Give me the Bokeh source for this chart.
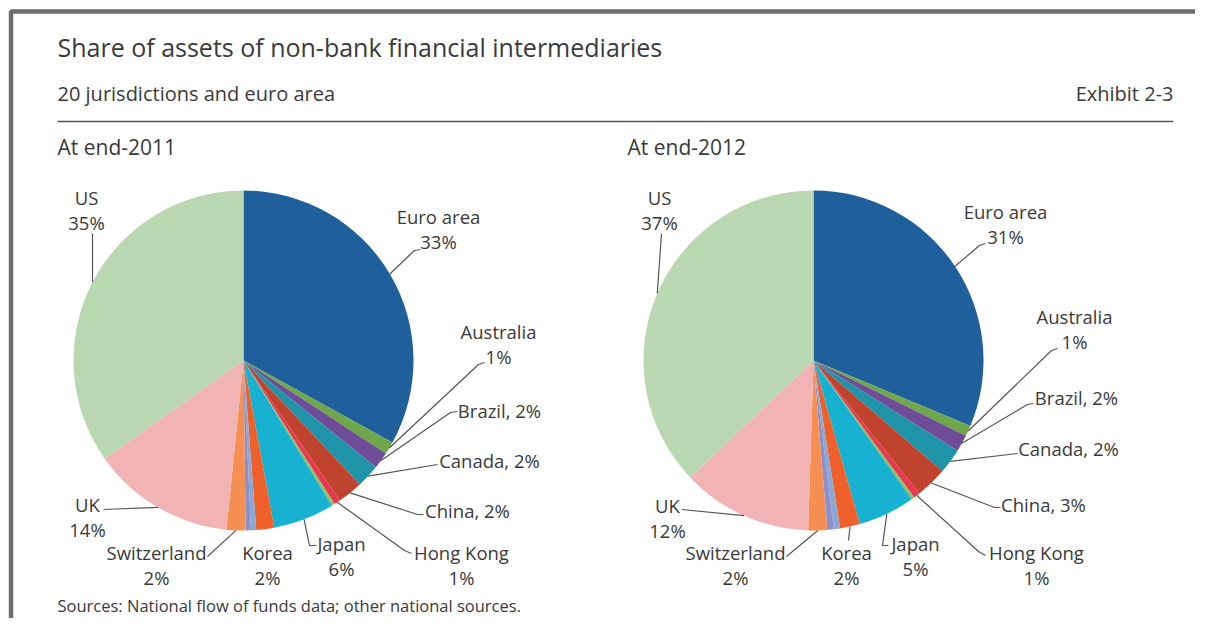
import math
from bokeh.plotting import figure
from bokeh.models import Range1d
from bokeh.core.properties import value
from bokeh.embed import file_html
from bokeh.resources import INLINE

# ---------------- data ----------------
slices = ["Euro area", "Australia", "Brazil", "Canada", "China", "Hong Kong", "India",
          "Japan", "Korea", "Mexico", "Singapore", "Switzerland", "UK", "US"]
colors = ["#1F5F9C", "#6FA84B", "#6E4C97", "#1F93A8", "#C0432E", "#E8384F", "#8DC063",
          "#17B2D1", "#F0602A", "#8AA8D4", "#8B8FCB", "#F68F52", "#F1B3B3", "#B9D7B1"]
share_2011 = [33.0, 1.2, 1.6, 2.2, 2.4, 0.6, 0.3, 5.8, 1.7, 0.5, 0.5, 1.8, 13.6, 34.8]
share_2012 = [31.3, 1.0, 1.6, 2.4, 3.0, 0.6, 0.3, 5.4, 1.9, 0.6, 0.6, 1.8, 12.4, 37.1]

title = "Share of assets of non-bank financial intermediaries"
subtitle = "20 jurisdictions and euro area"
exhibit = "Exhibit 2-3"
panel_titles = ["At end-2011", "At end-2012"]
source = "Sources: National flow of funds data; other national sources."

# ---------------- layout helpers ----------------
W, H = 1195, 618
FONT = value("Open Sans")
TXT = "#3a3a3a"
LBL = "18.5px"


def X(sx):
    return sx


def Y(sy):
    return H - sy


p = figure(width=W, height=H, x_range=Range1d(0, W), y_range=Range1d(0, H),
           output_backend="svg", toolbar_location=None, min_border=0)
p.axis.visible = False
p.grid.visible = False
p.outline_line_color = None
p.background_fill_color = "white"

# frame (top and left grey border)
p.line([X(10.5), X(10.5), X(1215)], [Y(640), Y(11), Y(11)], line_color="#6d6d6d", line_width=4.5)

# header
p.text([X(57)], [Y(46)], text=[title], text_font=FONT, text_font_size="25px",
       text_color=TXT, text_baseline="middle", text_align="left")
p.text([X(57)], [Y(93)], text=[subtitle], text_font=FONT, text_font_size="20px",
       text_color=TXT, text_baseline="middle", text_align="left")
p.text([X(1173)], [Y(93)], text=[exhibit], text_font=FONT, text_font_size="20px",
       text_color=TXT, text_baseline="middle", text_align="right")
p.line([X(57), X(1173)], [Y(121), Y(121)], line_color="#555555", line_width=1.5)
p.text([X(57), X(627)], [Y(146), Y(146)], text=panel_titles, text_font=FONT,
       text_font_size="21px", text_color=TXT, text_baseline="middle", text_align="left")
p.text([X(57)], [Y(605)], text=[source], text_font=FONT, text_font_size="16.5px",
       text_color=TXT, text_baseline="middle", text_align="left")

R = 170

# label layout: name -> (text center x, first line y, two lines?, leader points near label)
layout_2011 = {
    "Euro area": (438, 216, True, [(420, 249), (414, 250)]),
    "Australia": (498, 331, True, [(484, 362), (478, 364)]),
    "Brazil": (499, 410, False, [(457, 411), (450, 412)]),
    "Canada": (489, 460, False, [(437, 464)]),
    "China": (467, 510, False, [(423, 514), (417, 514)]),
    "Hong Kong": (461, 552, True, [(411, 553), (404, 550)]),
    "Japan": (341, 543, True, [(316, 545), (309, 545)]),
    "Korea": (267, 552, True, []),
    "Switzerland": (156, 552, True, [(207, 556)]),
    "UK": (87, 504, True, [(103, 509)]),
    "US": (86, 197, True, [(92, 233)]),
}
layout_2012 = {
    "Euro area": (1005, 211, True, [(985, 243), (979, 245)]),
    "Australia": (1074, 316, True, [(1057, 348), (1051, 350)]),
    "Brazil": (1076, 397, False, [(1033, 403), (1027, 404)]),
    "Canada": (1068, 448, False, [(1017, 453)]),
    "China": (1043, 504, False, [(1000, 507), (994, 507)]),
    "Hong Kong": (1036, 552, True, [(985, 555), (978, 551)]),
    "Japan": (915, 543, True, [(888, 545), (882, 545)]),
    "Korea": (846, 552, True, [(848, 540)]),
    "Switzerland": (735, 552, True, [(786, 556)]),
    "UK": (667, 505, True, [(681, 509)]),
    "US": (659, 197, True, [(661, 233)]),
}


def draw_pie(cx_s, cy_s, shares, layout):
    total = sum(shares)
    cum = 0.0
    starts, ends, mids = [], [], []
    for v in shares:
        a0 = cum / total * 2 * math.pi
        cum += v
        a1 = cum / total * 2 * math.pi
        starts.append(math.pi / 2 - a0)
        ends.append(math.pi / 2 - a1)
        mids.append((a0 + a1) / 2)
    p.wedge(x=X(cx_s), y=Y(cy_s), radius=R, start_angle=starts, end_angle=ends,
            direction="clock", fill_color=colors, line_color=None)
    for name, v, m in zip(slices, shares, mids):
        if name not in layout:
            continue
        tx, ty, two, pts = layout[name]
        pct = f"{int(round(v))}%"
        if two:
            p.text([X(tx), X(tx)], [Y(ty), Y(ty + 25)], text=[name, pct], text_font=FONT,
                   text_font_size=LBL, text_color=TXT, text_baseline="middle",
                   text_align="center")
        else:
            p.text([X(tx)], [Y(ty)], text=[f"{name}, {pct}"], text_font=FONT,
                   text_font_size=LBL, text_color=TXT, text_baseline="middle",
                   text_align="center")
        if pts:
            ax = cx_s + R * math.sin(m)
            ay = cy_s - R * math.cos(m)
            xs = [X(a) for a, _ in pts] + [X(ax)]
            ys = [Y(b) for _, b in pts] + [Y(ay)]
            p.line(xs, ys, line_color="#555555", line_width=1.2)


draw_pie(243, 360, share_2011, layout_2011)
draw_pie(813, 360, share_2012, layout_2012)

open("out.html", "w").write(file_html(p, INLINE))
